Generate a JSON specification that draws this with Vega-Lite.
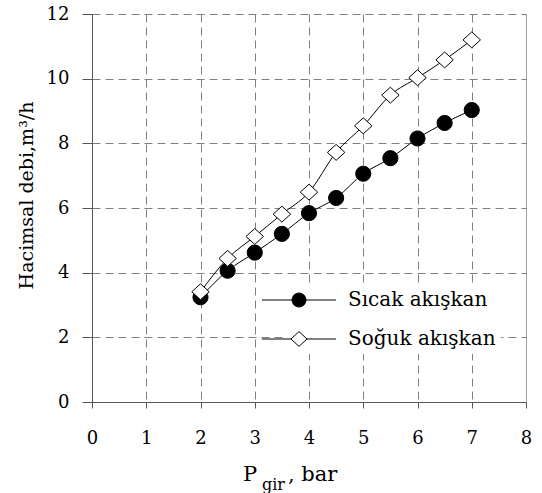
{
  "$schema": "https://vega.github.io/schema/vega-lite/v6.json",
  "width": 434,
  "height": 388,
  "autosize": {"type": "none"},
  "padding": {"left": 92, "top": 14, "right": 16, "bottom": 91},
  "background": "white",
  "config": {"view": {"stroke": null}, "font": "DejaVu Serif"},
  "data": {
    "values": [
      {"P": 2, "Q": 3.24, "series": "Sıcak akışkan"},
      {"P": 2.5, "Q": 4.06, "series": "Sıcak akışkan"},
      {"P": 3, "Q": 4.62, "series": "Sıcak akışkan"},
      {"P": 3.5, "Q": 5.2, "series": "Sıcak akışkan"},
      {"P": 4, "Q": 5.84, "series": "Sıcak akışkan"},
      {"P": 4.5, "Q": 6.31, "series": "Sıcak akışkan"},
      {"P": 5, "Q": 7.06, "series": "Sıcak akışkan"},
      {"P": 5.5, "Q": 7.54, "series": "Sıcak akışkan"},
      {"P": 6, "Q": 8.15, "series": "Sıcak akışkan"},
      {"P": 6.5, "Q": 8.63, "series": "Sıcak akışkan"},
      {"P": 7, "Q": 9.03, "series": "Sıcak akışkan"},
      {"P": 2, "Q": 3.41, "series": "Soğuk akışkan"},
      {"P": 2.5, "Q": 4.44, "series": "Soğuk akışkan"},
      {"P": 3, "Q": 5.12, "series": "Soğuk akışkan"},
      {"P": 3.5, "Q": 5.81, "series": "Soğuk akışkan"},
      {"P": 4, "Q": 6.49, "series": "Soğuk akışkan"},
      {"P": 4.5, "Q": 7.72, "series": "Soğuk akışkan"},
      {"P": 5, "Q": 8.54, "series": "Soğuk akışkan"},
      {"P": 5.5, "Q": 9.49, "series": "Soğuk akışkan"},
      {"P": 6, "Q": 10.03, "series": "Soğuk akışkan"},
      {"P": 6.5, "Q": 10.58, "series": "Soğuk akışkan"},
      {"P": 7, "Q": 11.2, "series": "Soğuk akışkan"}
    ]
  },
  "layer": [
    {
      "mark": {"type": "line", "interpolate": "monotone", "strokeWidth": 1},
      "encoding": {
        "x": {
          "field": "P", "type": "quantitative",
          "scale": {"domain": [0, 8], "nice": false, "zero": false},
          "axis": {
            "values": [0, 1, 2, 3, 4, 5, 6, 7, 8],
            "title": null,
            "grid": true,
            "gridColor": "#808080",
            "gridWidth": 1,
            "gridDash": {"condition": {"test": "datum.value === 8", "value": [1, 0]}, "value": [8, 5]},
            "domainColor": "#555555",
            "tickColor": "#555555",
            "tickSize": 6,
            "labelFont": "DejaVu Serif",
            "labelFontSize": 18,
            "labelColor": "black",
            "labelPadding": 21,
            "labelFlush": false,
            "labelOverlap": false
          }
        },
        "y": {
          "field": "Q", "type": "quantitative",
          "scale": {"domain": [0, 12], "nice": false},
          "axis": {
            "values": [0, 2, 4, 6, 8, 10, 12],
            "title": "Hacimsal debi,m³/h",
            "titleFont": "DejaVu Serif",
            "titleFontSize": 19,
            "titleFontWeight": "normal",
            "titleColor": "black",
            "titleAngle": -90,
            "titleX": -60,
            "titleY": 181,
            "titleAlign": "center",
            "titleBaseline": "alphabetic",
            "grid": true,
            "gridColor": "#808080",
            "gridWidth": 1,
            "gridDash": [8, 5],
            "domainColor": "#555555",
            "tickColor": "#555555",
            "tickSize": 10,
            "labelFont": "DejaVu Serif",
            "labelFontSize": 18,
            "labelColor": "black",
            "labelPadding": 13,
            "labelFlush": false,
            "labelOverlap": false
          }
        },
        "stroke": {
          "field": "series", "type": "nominal",
          "scale": {"range": ["black", "black"]},
          "legend": {
            "orient": "none",
            "legendX": 192,
            "legendY": 271,
            "title": null,
            "padding": 5,
            "fillColor": "white",
            "labelFont": "DejaVu Serif",
            "labelFontSize": 20,
            "labelOpacity": 0,
            "labelOffset": 39,
            "rowPadding": 19,
            "symbolType": "M-5.3,0L5.3,0",
            "symbolSize": 196,
            "symbolStrokeWidth": 1,
            "symbolStrokeColor": "black"
          }
        }
      }
    },
    {
      "mark": {"type": "point", "filled": true, "stroke": "black", "strokeWidth": 1, "opacity": 1, "size": 230},
      "encoding": {
        "x": {"field": "P", "type": "quantitative"},
        "y": {"field": "Q", "type": "quantitative"},
        "shape": {
          "field": "series", "type": "nominal",
          "scale": {"domain": ["Sıcak akışkan", "Soğuk akışkan"], "range": ["circle", "M-1.15,0L0,-1.05L1.15,0L0,1.05Z"]},
          "legend": {
            "orient": "none",
            "legendX": 192,
            "legendY": 271,
            "title": null,
            "padding": 5,
            "labelFont": "DejaVu Serif",
            "labelFontSize": 20,
            "labelColor": "black",
            "labelOffset": 39,
            "rowPadding": 19,
            "symbolSize": 196,
            "symbolStrokeWidth": 1
          }
        },
        "fill": {
          "field": "series", "type": "nominal",
          "scale": {"domain": ["Sıcak akışkan", "Soğuk akışkan"], "range": ["black", "white"]}
        }
      }
    },
    {
      "data": {"values": [{"t": "P"}]},
      "mark": {"type": "text", "align": "left", "baseline": "alphabetic", "dx": -66, "dy": 79, "fontSize": 21, "font": "DejaVu Serif", "color": "black"},
      "encoding": {"x": {"datum": 4, "type": "quantitative"}, "y": {"datum": 0, "type": "quantitative"}, "text": {"field": "t"}}
    },
    {
      "data": {"values": [{"t": "gir"}]},
      "mark": {"type": "text", "align": "left", "baseline": "alphabetic", "dx": -47, "dy": 88, "fontSize": 16, "font": "DejaVu Serif", "color": "black"},
      "encoding": {"x": {"datum": 4, "type": "quantitative"}, "y": {"datum": 0, "type": "quantitative"}, "text": {"field": "t"}}
    },
    {
      "data": {"values": [{"t": ", bar"}]},
      "mark": {"type": "text", "align": "left", "baseline": "alphabetic", "dx": -21, "dy": 79, "fontSize": 21, "font": "DejaVu Serif", "color": "black"},
      "encoding": {"x": {"datum": 4, "type": "quantitative"}, "y": {"datum": 0, "type": "quantitative"}, "text": {"field": "t"}}
    }
  ]
}
